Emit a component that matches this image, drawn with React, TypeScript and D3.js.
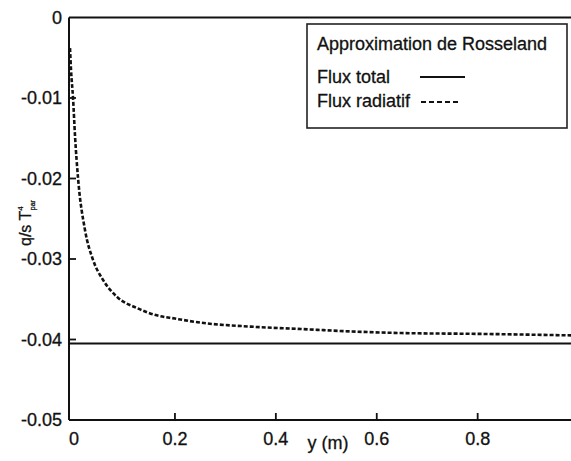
import React from "react";
import * as d3 from "d3";

const xTicks = [0, 0.2, 0.4, 0.6, 0.8];
const yTicks = [0, -0.01, -0.02, -0.03, -0.04, -0.05];
const yTickLabels = ["0", "-0.01", "-0.02", "-0.03", "-0.04", "-0.05"];
const xTickLabels = ["0", "0.2", "0.4", "0.6", "0.8"];

const radX = [-0.008, -0.006, -0.002, 0.002, 0.008, 0.0217, 0.0376, 0.0574, 0.0851, 0.1248, 0.164, 0.2, 0.25, 0.35, 0.45, 0.55, 0.65, 0.8, 0.995];
const radY = [-0.0038, -0.0065, -0.010, -0.0148, -0.020, -0.0264, -0.0301, -0.0326, -0.0347, -0.0361, -0.0370, -0.0374, -0.0379, -0.0384, -0.0387, -0.0390, -0.0392, -0.0393, -0.0395];
const totalX = [-0.01, 1.0];
const totalY = [-0.0405, -0.0405];

const legendTitle = "Approximation de Rosseland";
const legendLabels = ["Flux total", "Flux radiatif"];

export default function App() {
  const W = 571, H = 461;
  const x = d3.scaleLinear().domain([-0.01, 0.985]).range([69, 571]);
  const y = d3.scaleLinear().domain([-0.05, 0]).range([420, 17.5]);
  const line = d3.line<[number, number]>().x(d => x(d[0])).y(d => y(d[1])).curve(d3.curveMonotoneX);
  const radPts: [number, number][] = radX.map((v, i) => [v, radY[i]]);
  const totPts: [number, number][] = totalX.map((v, i) => [v, totalY[i]]);
  const font = "'Liberation Sans', Arial, sans-serif";
  const fs = 18;
  return (
    <svg width={W} height={H} style={{ position: "absolute", left: 0, top: 0, background: "#fff" }} fontFamily={font}>
      <rect x={0} y={0} width={W} height={H} fill="#fff" />
      {/* frame */}
      <line x1={69} x2={571} y1={17.5} y2={17.5} stroke="#111" strokeWidth={2} />
      <line x1={69} x2={69} y1={17.5} y2={420} stroke="#111" strokeWidth={2} />
      <line x1={69} x2={571} y1={420} y2={420} stroke="#111" strokeWidth={2} />
      {/* y ticks */}
      {yTicks.map((t, i) => (
        <g key={"y" + i}>
          {i > 0 && i < yTicks.length - 1 && (
            <line x1={69} x2={76} y1={y(t)} y2={y(t)} stroke="#111" strokeWidth={1.8} />
          )}
          <text x={62} y={y(t)} dy="0.35em" textAnchor="end" fontSize={fs} fill="#111" stroke="#111" strokeWidth={0.3}>{yTickLabels[i]}</text>
        </g>
      ))}
      {/* x ticks */}
      {xTicks.map((t, i) => (
        <g key={"x" + i}>
          {i > 0 && <line x1={x(t)} x2={x(t)} y1={420} y2={413} stroke="#111" strokeWidth={1.8} />}
          <text x={x(t)} y={445} textAnchor="middle" fontSize={fs} fill="#111" stroke="#111" strokeWidth={0.3}>{xTickLabels[i]}</text>
        </g>
      ))}
      <text x={328} y={449} textAnchor="middle" fontSize={fs} fill="#111" stroke="#111" strokeWidth={0.3}>y (m)</text>
      <g transform="translate(31,246) rotate(-90)">
        <text textAnchor="start" fontSize={16} fill="#111" stroke="#111" strokeWidth={0.3}>
          q/s T<tspan fontSize={8} dy={-8}>4</tspan><tspan fontSize={7} dy={12} dx={-4}>par</tspan>
        </text>
      </g>
      {/* series */}
      <path d={line(totPts) || ""} fill="none" stroke="#111" strokeWidth={2} />
      <path d={line(radPts) || ""} fill="none" stroke="#111" strokeWidth={2.6} strokeDasharray="4 2" />
      {/* legend */}
      <rect x={307} y={24} width={260} height={104} fill="#fff" stroke="#222" strokeWidth={1.6} />
      <text x={317} y={50} fontSize={fs} fill="#111" stroke="#111" strokeWidth={0.3}>{legendTitle}</text>
      <text x={317} y={83} fontSize={fs} fill="#111" stroke="#111" strokeWidth={0.3}>{legendLabels[0]}</text>
      <line x1={420} x2={465} y1={77} y2={77} stroke="#111" strokeWidth={2} />
      <text x={317} y={107} fontSize={fs} fill="#111" stroke="#111" strokeWidth={0.3}>{legendLabels[1]}</text>
      <line x1={421} x2={461} y1={102} y2={102} stroke="#111" strokeWidth={2} strokeDasharray="5 3" />
    </svg>
  );
}
